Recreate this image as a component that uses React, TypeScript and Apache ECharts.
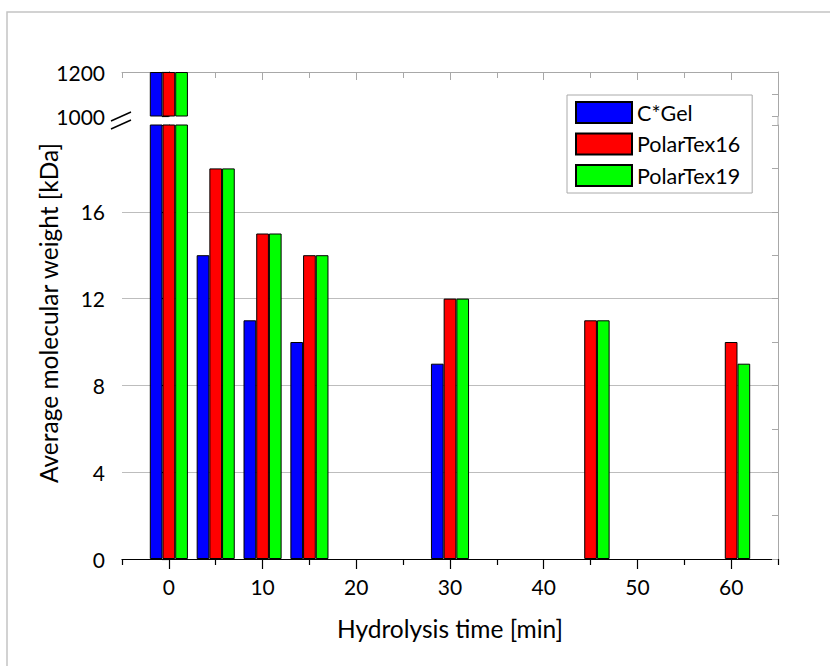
import React, { useEffect, useRef } from 'react';
import * as echarts from 'echarts';

const seriesNames = ['C*Gel', 'PolarTex16', 'PolarTex19'];
const seriesColors = ['#0000ff', '#ff0000', '#00ff00'];
const times = [0, 5, 10, 15, 30, 45, 60];
const cgel = [1200, 14, 11, 10, 9, null, null];
const polarTex16 = [1200, 18, 15, 14, 12, 11, 10];
const polarTex19 = [1200, 18, 15, 14, 12, 11, 9];
const xLabelValues = [0, 10, 20, 30, 40, 50, 60];
const lowerLabelValues = [0, 4, 8, 12, 16];
const upperLabelValues = [1000, 1200];
const xTitle = 'Hydrolysis time [min]';
const yTitle = 'Average molecular weight [kDa]';

const FONT = 'Lato';

export default function App() {
  const ref = useRef<HTMLDivElement>(null);
  useEffect(() => {
    document.body.style.margin = '0';
    if (!ref.current) return;
    const chart = echarts.init(ref.current, undefined, { renderer: 'svg' });
    const allValues = [cgel, polarTex16, polarTex19];
    const lowerMax = 20;
    const upperMin = 1000;
    const upperMax = 1200;

    const series: any[] = [];
    allValues.forEach((vals, si) => {
      const lowerData = times
        .map((t, i) => (vals[i] == null ? null : [t, vals[i]]))
        .filter((d) => d !== null);
      const upperData = times
        .map((t, i) => (vals[i] != null && (vals[i] as number) >= upperMin ? [t, vals[i]] : null))
        .filter((d) => d !== null);
      const common = {
        type: 'bar',
        name: seriesNames[si],
        barWidth: 12.7,
        barGap: '0%',
        itemStyle: { color: seriesColors[si], borderColor: '#000', borderWidth: 1 },
      };
      series.push({ ...common, xAxisIndex: 0, yAxisIndex: 0, data: lowerData });
      series.push({ ...common, xAxisIndex: 1, yAxisIndex: 2, data: upperData });
    });

    const grayLine = { color: '#a8a8a8', width: 1 };
    const blackLine = { color: '#000', width: 1.2 };
    const labelStyle = { fontFamily: FONT, fontSize: 21, color: '#000' };
    const plain = (v: number) => String(v);

    chart.setOption({
      animation: false,
      backgroundColor: '#fff',
      textStyle: { fontFamily: FONT },
      grid: [
        { left: 122, right: 52, top: 125, bottom: 107, containLabel: false },
        { left: 122, right: 52, top: 72, height: 44, containLabel: false },
      ],
      legend: {
        orient: 'vertical',
        left: 567,
        top: 95,
        itemWidth: 56,
        itemHeight: 21,
        itemGap: 8.5,
        padding: [6, 12, 6, 8],
        borderColor: '#aaa',
        borderWidth: 1,
        icon: 'rect',
        data: seriesNames,
        textStyle: { fontFamily: FONT, fontSize: 21.5, lineHeight: 21, color: '#000' },
      },
      xAxis: [
        {
          type: 'value',
          gridIndex: 0,
          position: 'bottom',
          min: -5,
          max: 65,
          interval: 10,
          axisLine: { show: true, lineStyle: blackLine },
          axisTick: { show: true, inside: false, length: 6, lineStyle: blackLine },
          minorTick: { show: true, splitNumber: 2, length: 10, lineStyle: blackLine },
          axisLabel: { show: true, customValues: xLabelValues, margin: 17, formatter: plain, ...labelStyle },
          splitLine: { show: false },
          name: xTitle,
          nameLocation: 'middle',
          nameGap: 57,
          nameTextStyle: { fontFamily: FONT, fontSize: 24.5, color: '#000' },
        },
        {
          type: 'value',
          gridIndex: 1,
          position: 'top',
          min: -5,
          max: 65,
          interval: 10,
          axisLine: { show: true, lineStyle: grayLine },
          axisTick: { show: true, inside: true, length: 6, lineStyle: grayLine },
          minorTick: { show: true, splitNumber: 2, length: 8, lineStyle: grayLine },
          axisLabel: { show: false },
          splitLine: { show: false },
        },
      ],
      yAxis: [
        {
          type: 'value',
          gridIndex: 0,
          position: 'left',
          min: 0,
          max: lowerMax,
          interval: 4,
          axisLine: { show: true, lineStyle: blackLine },
          axisTick: { show: true, inside: false, length: 7, lineStyle: blackLine },
          minorTick: { show: true, splitNumber: 2, length: 5, lineStyle: blackLine },
          axisLabel: { show: true, customValues: lowerLabelValues, margin: 17, formatter: plain, ...labelStyle },
          splitLine: {
            show: true,
            lineStyle: {
              color: ['#bdbdbd', '#bdbdbd', '#bdbdbd', '#bdbdbd', '#bdbdbd', 'rgba(0,0,0,0)'],
              width: 1,
            },
          },
        },
        {
          type: 'value',
          gridIndex: 0,
          position: 'right',
          min: 0,
          max: lowerMax,
          interval: 4,
          axisLine: { show: true, lineStyle: grayLine },
          axisTick: { show: true, inside: true, length: 6, lineStyle: grayLine },
          minorTick: { show: true, splitNumber: 2, length: 6, lineStyle: grayLine },
          axisLabel: { show: false },
          splitLine: { show: false },
        },
        {
          type: 'value',
          gridIndex: 1,
          position: 'left',
          min: upperMin,
          max: upperMax,
          interval: 200,
          axisLine: { show: true, lineStyle: blackLine },
          axisTick: { show: true, inside: false, length: 7, lineStyle: blackLine },
          minorTick: { show: true, splitNumber: 2, length: 5, lineStyle: blackLine },
          axisLabel: { show: true, customValues: upperLabelValues, margin: 17, formatter: plain, ...labelStyle },
          splitLine: { show: false },
        },
        {
          type: 'value',
          gridIndex: 1,
          position: 'right',
          min: upperMin,
          max: upperMax,
          interval: 200,
          axisLine: { show: true, lineStyle: grayLine },
          axisTick: { show: true, inside: true, length: 6, lineStyle: grayLine },
          minorTick: { show: true, splitNumber: 2, length: 6, lineStyle: grayLine },
          axisLabel: { show: false },
          splitLine: { show: false },
        },
      ],
      series,
      graphic: [
        {
          type: 'rect',
          silent: true,
          shape: { x: 7, y: 12, width: 900, height: 900 },
          style: { fill: 'none', stroke: '#c4c4c4', lineWidth: 1.5 },
        },
        {
          type: 'line',
          silent: true,
          shape: { x1: 778, y1: 116, x2: 778, y2: 125 },
          style: { stroke: '#a8a8a8', lineWidth: 1 },
        },
        {
          type: 'line',
          silent: true,
          shape: { x1: 111, y1: 121, x2: 131, y2: 112 },
          style: { stroke: '#000', lineWidth: 1.4 },
        },
        {
          type: 'line',
          silent: true,
          shape: { x1: 111, y1: 129, x2: 131, y2: 120 },
          style: { stroke: '#000', lineWidth: 1.4 },
        },
        {
          type: 'text',
          silent: true,
          x: 48,
          y: 313,
          rotation: Math.PI / 2,
          style: {
            text: yTitle,
            fontFamily: FONT,
            fontSize: 24.5,
            fill: '#000',
            align: 'center',
            verticalAlign: 'middle',
          },
        },
      ],
    });
    return () => chart.dispose();
  }, []);
  return <div ref={ref} style={{ width: 830, height: 666 }} />;
}
